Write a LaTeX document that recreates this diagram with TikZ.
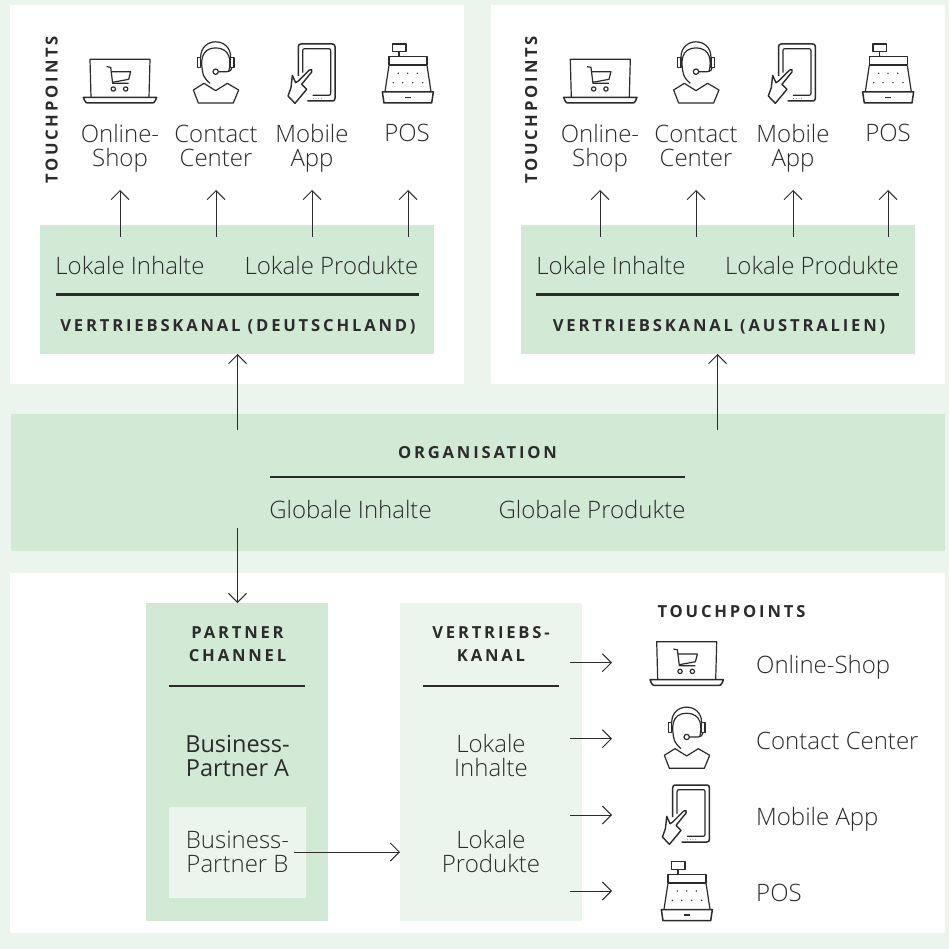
\documentclass[tikz,border=0pt]{standalone}
\usepackage{fontspec}
\setmainfont{Open Sans}
\newfontfamily\lightf{Open Sans Light}
\newfontfamily\capsf[LetterSpace=17]{Open Sans}
\usetikzlibrary{arrows.meta}
\definecolor{pale}{HTML}{EBF5EE}
\definecolor{mid}{HTML}{D2E9D6}
\definecolor{ink}{HTML}{2B2B2B}
\tikzset{
  panel/.style={anchor=north west,inner sep=0pt,outer sep=0pt,draw=none},
  lab/.style={text=ink,inner sep=0pt,anchor=base,align=center,font=\lightf\fontsize{24}{24.5}\selectfont},
  labl/.style={lab,anchor=base west,align=left},
  labr/.style={text=ink,inner sep=0pt,anchor=base,align=center,font=\fontsize{23.5}{24}\selectfont},
  capt/.style={text=ink,inner sep=0pt,anchor=base,align=center,font=\capsf\bfseries\fontsize{16.6}{22.5}\selectfont},
  rulebar/.style={draw=ink,line width=2.4pt},
  arr/.style={draw=ink,line width=1pt,-{Straight Barb[length=9pt,width=18pt,line width=1pt]}},
  ic/.style={draw=ink,line width=1.2pt,line join=round,fill=none},
  laptop/.pic={\begin{scope}[scale=1/3]
    \draw[ic] (183,232) -- (180,118) -- (360,118) -- (357,232);
    \draw[ic,line width=1.5pt] (160,232) -- (380,232) -- (376,242) .. controls (374,248) and (370,249) .. (366,249) -- (174,249) .. controls (170,249) and (166,248) .. (164,242) -- cycle;
    \draw[ic] (230,140) -- (242,142) -- (248,190) -- (296,190) ;
    \draw[ic] (243,155) -- (302,155) -- (296,178) -- (247,187);
    \draw[ic] (250,207) circle (6.5);
    \draw[ic] (287,207) circle (6.5);
  \end{scope}},
  headset/.pic={\begin{scope}[scale=1/3]
    \draw[ic] (512,112) .. controls (512,50) and (602,50) .. (602,112);
    \draw[ic] (502,112) rectangle (512,142);
    \draw[ic] (602,112) rectangle (612,142);
    \draw[ic] (520,165) .. controls (510,125) and (512,84) .. (557,84) .. controls (602,84) and (604,125) .. (596,155);
    \draw[ic] (520,165) .. controls (527,180) and (535,185) .. (540,190);
    \draw[ic] (557,155) circle (8);
    \draw[ic] (565,155) -- (592,155) .. controls (600,155) and (605,150) .. (606,142);
    \draw[ic] (490,210) -- (522,190) -- (557,212) -- (592,190) -- (626,210) -- (610,249) -- (505,249) -- cycle;
  \end{scope}},
  tablet/.pic={\begin{scope}[scale=1/3]
    \draw[ic,line width=1.5pt] (805,168) -- (805,80) .. controls (805,74) and (808,72) .. (813,72) -- (907,72) .. controls (912,72) and (915,74) .. (915,80) -- (915,235) .. controls (915,241) and (912,243) .. (907,243) -- (832,243);
    \draw[ic] (818,158) -- (818,92) .. controls (818,88) and (820,86) .. (824,86) -- (896,86) .. controls (900,86) and (902,88) .. (902,92) -- (902,220) .. controls (902,224) and (900,226) .. (896,226) -- (848,226);
    \draw[ic,line width=1.4pt] (787,166) -- (797,188) -- (805,183) -- (838,150) .. controls (843,146) and (849,150) .. (845,156) -- (815,193) -- (830,208) -- (795,250) -- (774,228) -- (783,203) -- cycle;
    \foreach \x in {850,858,866,874} \fill[ink] (\x,236) circle (1.2);
  \end{scope}},
  register/.pic={\begin{scope}[scale=1/3]
    \draw[ic] (1088,72) rectangle (1128,95);
    \draw[ic] (1107,95) -- (1107,110);
    \draw[ic] (1077,135) -- (1077,110) -- (1191,110) -- (1191,135);
    \draw[ic,line width=1.8pt] (1077,136) -- (1191,136);
    \draw[ic] (1077,136) -- (1065,215);
    \draw[ic] (1191,136) -- (1203,215);
    \draw[ic,line width=1.5pt] (1057,216) -- (1210,216) -- (1205,249) -- (1062,249) -- cycle;
    \draw[ic,line width=1.6pt] (1125,232) -- (1142,232);
    \foreach \x in {1105,1133,1162} \fill[ink] (\x,160) circle (2.4);
    \foreach \x in {1090,1118,1148,1178} \fill[ink] (\x,188) circle (2.4);
  \end{scope}},
}
\begin{document}
\begin{tikzpicture}[x=1pt,y=-1pt]
\useasboundingbox (0,0) rectangle (949,949);
\fill[pale] (0,0) rectangle (949,949);
% panels
\node[panel,fill=white,minimum width=454pt,minimum height=379pt] (pDE) at (10,5) {};
\node[panel,fill=white,minimum width=454pt,minimum height=379pt] (pAU) at (491,5) {};
\node[panel,fill=mid,minimum width=934pt,minimum height=137pt] (org) at (11,414) {};
\node[panel,fill=white,minimum width=935pt,minimum height=360pt] (pBot) at (10,573) {};
\node[panel,fill=mid,minimum width=394pt,minimum height=129pt] (vkDE) at (40,225) {};
\node[panel,fill=mid,minimum width=394pt,minimum height=129pt] (vkAU) at (521,225) {};
\node[panel,fill=mid,minimum width=182pt,minimum height=318pt] (partner) at (146,603) {};
\node[panel,fill=pale,minimum width=182pt,minimum height=318pt] (vk) at (400,603) {};
\node[panel,fill=pale,minimum width=137pt,minimum height=91pt] (bpB) at (169,807) {};
% top left
\node[capt,rotate=90] (tpDE) at (57.5,110) {TOUCHPOINTS};
\pic at (30,20) {laptop};
\pic at (30,20) {headset};
\pic at (30,20) {tablet};
\pic at (30,20) {register};
\node[lab] (l1) at (120,166.7) {Online-\\Shop};
\node[lab] (l2) at (216,166.7) {Contact\\Center};
\node[lab] (l3) at (312,166.7) {Mobile\\App};
\node[lab] (l4) at (407,142) {POS};
\node[lab] (li1) at (130,275) {Lokale Inhalte};
\node[lab] (lp1) at (331.5,275) {Lokale Produkte};
\coordinate (r1a) at (56,294.5); \coordinate (r1b) at (419,294.5);
\draw[rulebar] (r1a) -- (r1b);
\node[capt] (c1) at (238,331.5) {VERTRIEBSKANAL (DEUTSCHLAND)};
% top right
\node[capt,rotate=90] (tpAU) at (537,110) {TOUCHPOINTS};
\pic at (510.3,20) {laptop};
\pic at (510.3,20) {headset};
\pic at (510.3,20) {tablet};
\pic at (510.3,20) {register};
\node[lab] (m1) at (600,166.7) {Online-\\Shop};
\node[lab] (m2) at (696,166.7) {Contact\\Center};
\node[lab] (m3) at (793,166.7) {Mobile\\App};
\node[lab] (m4) at (888,142) {POS};
\node[lab] (li2) at (611,275) {Lokale Inhalte};
\node[lab] (lp2) at (812,275) {Lokale Produkte};
\coordinate (r2a) at (536,294.5); \coordinate (r2b) at (899,294.5);
\draw[rulebar] (r2a) -- (r2b);
\node[capt] (c2) at (719,331.5) {VERTRIEBSKANAL (AUSTRALIEN)};
% arrows up, top panels
\foreach \n/\x in {a/120,b/216,c/312,d/408,e/600,f/696,g/793,h/888} {
  \coordinate (s\n) at (\x,237); \coordinate (t\n) at (\x,190);
  \draw[arr] (s\n) -- (t\n);
}
% organisation
\node[capt] (oc) at (477.5,458) {ORGANISATION};
\coordinate (r3a) at (270,477); \coordinate (r3b) at (685,477);
\draw[rulebar] (r3a) -- (r3b);
\node[lab] (og1) at (350.5,518) {Globale Inhalte};
\node[lab] (og2) at (592,518) {Globale Produkte};
\coordinate (oA) at (237.5,430); \coordinate (oB) at (717.5,430); \coordinate (oC) at (237.5,528);
\draw[arr] (oA) -- (oA |- vkDE.south);
\draw[arr] (oB) -- (oB |- vkAU.south);
\draw[arr] (oC) -- (oC |- partner.north);
% partner
\node[capt] (pc) at (237.5,661) {PARTNER\\CHANNEL};
\coordinate (r4a) at (169,686); \coordinate (r4b) at (305,686);
\draw[rulebar] (r4a) -- (r4b);
\node[labr] (ba) at (237.5,776.7) {Business-\\Partner A};
\node[lab] (bb) at (237.5,872.7) {Business-\\Partner B};
% vertriebskanal
\node[capt] (vc) at (491,661) {VERTRIEBS-\\KANAL};
\coordinate (r5a) at (423,686); \coordinate (r5b) at (559,686);
\draw[rulebar] (r5a) -- (r5b);
\node[lab] (vi) at (491,776.7) {Lokale\\Inhalte};
\node[lab] (vp) at (491,872.7) {Lokale\\Produkte};
\coordinate (bB) at (294,852);
\draw[arr] (bB) -- (bB -| vk.west);
% touchpoints list
\node[capt] (tl) at (731.5,617) {TOUCHPOINTS};
\pic at (596.7,602.4) {laptop};
\pic at (501,685.3) {headset};
\pic at (404.4,761) {tablet};
\pic at (309,837.7) {register};
\node[labl] (n1) at (756,673) {Online-Shop};
\node[labl] (n2) at (756,749) {Contact Center};
\node[labl] (n3) at (756,825) {Mobile App};
\node[labl] (n4) at (756,901) {POS};
\foreach \n/\y in {p/662.7,q/738.7,r/815,s/891} {
  \coordinate (s\n) at (570,\y); \coordinate (t\n) at (612,\y);
  \draw[arr] (s\n) -- (t\n);
}
\end{tikzpicture}
\end{document}
